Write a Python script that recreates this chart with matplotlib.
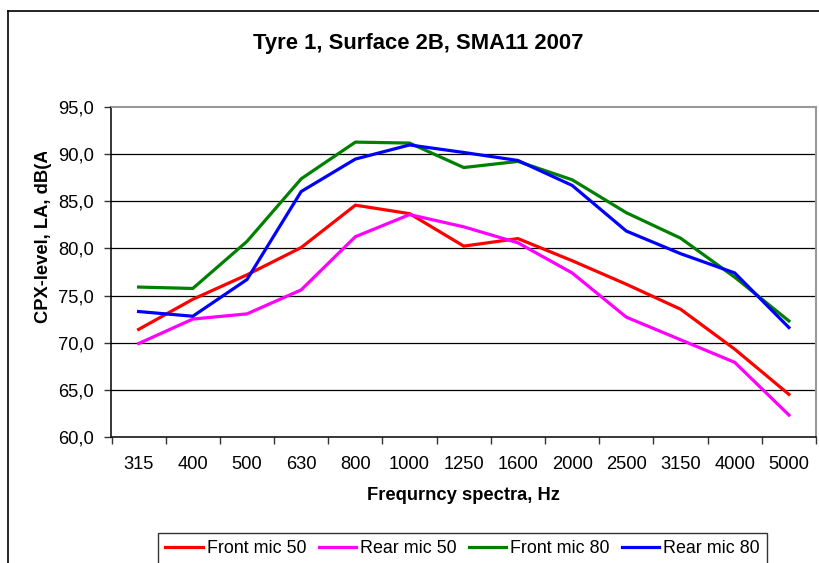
import matplotlib
matplotlib.use("Agg")
import matplotlib.pyplot as plt
from matplotlib.lines import Line2D
from matplotlib.transforms import Bbox
import numpy as np

plt.rcParams['font.family'] = ['Liberation Sans', 'DejaVu Sans']

categories = ["315", "400", "500", "630", "800", "1000", "1250", "1600", "2000", "2500", "3150", "4000", "5000"]
front_mic_50 = [71.4, 74.6, 77.2, 80.1, 84.6, 83.7, 80.25, 81.05, 78.7, 76.2, 73.55, 69.3, 64.5]
rear_mic_50 = [69.9, 72.5, 73.05, 75.6, 81.25, 83.6, 82.3, 80.6, 77.4, 72.7, 70.3, 67.9, 62.3]
front_mic_80 = [75.9, 75.75, 80.75, 87.4, 91.3, 91.2, 88.6, 89.25, 87.3, 83.8, 81.1, 76.95, 72.3]
rear_mic_80 = [73.3, 72.8, 76.7, 86.05, 89.5, 91.0, 90.2, 89.35, 86.7, 81.85, 79.45, 77.4, 71.6]
yticks = [60, 65, 70, 75, 80, 85, 90, 95]

W, H = 819, 563
fig = plt.figure(figsize=(W / 100, H / 100), dpi=100)
ax = fig.add_axes([111.5 / W, (H - 436.7) / H, (816 - 111.5) / W, (436.7 - 107.3) / H])

x = np.arange(len(categories))
series = [("Front mic 50", front_mic_50, "#ff0000"),
          ("Rear mic 50", rear_mic_50, "#ff00ff"),
          ("Front mic 80", front_mic_80, "#008000"),
          ("Rear mic 80", rear_mic_80, "#0000ff")]
handles = []
for name, vals, col in series:
    h, = ax.plot(x, vals, color=col, lw=2.3, label=name, zorder=3, solid_joinstyle='miter')
    handles.append(h)

ax.set_xlim(-0.5, len(categories) - 0.5)
ax.set_ylim(60, 95)
ax.set_yticks(yticks)
ax.set_yticklabels([f"{v:.1f}".replace(".", ",") for v in yticks])
ax.set_xticks(x)
ax.set_xticklabels(categories)
ax.set_xticks(np.arange(-0.5, len(categories)), minor=True)
ax.tick_params(axis='x', which='major', length=0, pad=14, labelsize=13.2)
ax.tick_params(axis='x', which='minor', length=5, width=1, direction='out', color='#333333')
ax.tick_params(axis='y', which='major', length=5, width=1, direction='out', pad=7.5, labelsize=13.2, color='#333333')

for v in yticks[1:-1]:
    ax.axhline(v, color='black', lw=0.9, zorder=1)

ax.spines['left'].set_color('black')
ax.spines['bottom'].set_color('black')
ax.spines['left'].set_linewidth(1.1)
ax.spines['bottom'].set_linewidth(1.1)
ax.spines['top'].set_color('#999999')
ax.spines['right'].set_color('#999999')
ax.spines['top'].set_linewidth(1.5)
ax.spines['right'].set_linewidth(1.5)

fig.text(418 / W, 1 - 43 / H, "Tyre 1, Surface 2B, SMA11 2007", ha='center', va='center',
         fontsize=15.8, fontweight='bold')
fig.text(463.75 / W, 1 - 496 / H, "Frequrncy spectra, Hz", ha='center', va='center',
         fontsize=13.2, fontweight='bold')
ylab = fig.text(44 / W, 1 - 233 / H, "CPX-level, LA, dB(A)", rotation=90, ha='center', va='center',
                fontsize=13.2, fontweight='bold')
ylab.set_clip_box(Bbox.from_extents(0, 0, W, H - 152))
ylab.set_clip_on(True)

# outer chart border
fig.add_artist(Line2D([8 / W, 8 / W], [0, 1 - 11 / H], transform=fig.transFigure, color='black', lw=1.2))
fig.add_artist(Line2D([8 / W, 1], [1 - 11 / H, 1 - 11 / H], transform=fig.transFigure, color='black', lw=1.2))

leg = fig.legend(handles=handles, loc='upper left', bbox_to_anchor=(158.3 / W, 1 - 532.7 / H),
                 ncol=4, frameon=True, fancybox=False, fontsize=12.9, handlelength=2.1,
                 handletextpad=0.22, columnspacing=0.67, borderpad=0.4, borderaxespad=0)
leg.get_frame().set_edgecolor('black')
leg.get_frame().set_linewidth(1.0)

fig.savefig("out.png", dpi=100)
